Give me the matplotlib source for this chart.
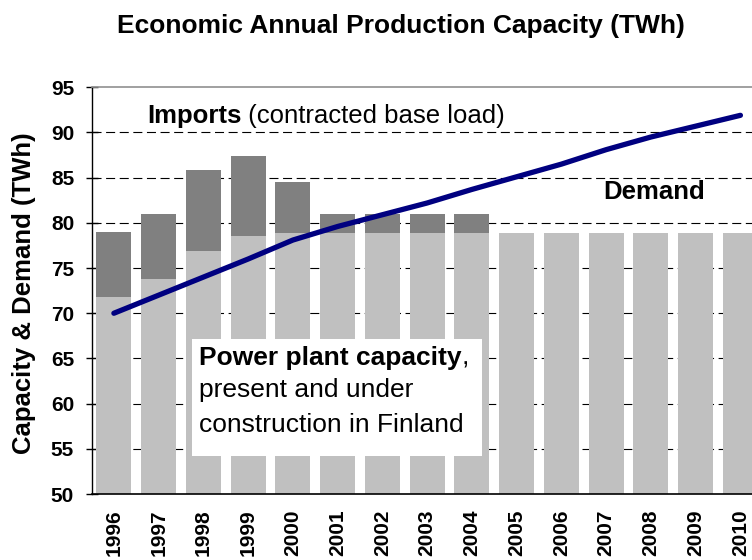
import matplotlib.pyplot as plt

plt.rcParams['font.family'] = ['Liberation Sans', 'DejaVu Sans']
plt.rcParams['lines.scale_dashes'] = False

years = ['1996', '1997', '1998', '1999', '2000', '2001', '2002', '2003',
         '2004', '2005', '2006', '2007', '2008', '2009', '2010']
domestic = [71.8, 73.8, 76.9, 78.5, 78.9, 78.9, 78.9, 78.9,
            78.9, 78.9, 78.9, 78.9, 78.9, 78.9, 78.9]
imports = [7.2, 7.2, 8.95, 8.9, 5.6, 2.1, 2.1, 2.1,
           2.1, 0, 0, 0, 0, 0, 0]
demand = [70.0, 72.0, 74.0, 76.0, 78.1, 79.6, 80.9, 82.2,
          83.7, 85.1, 86.5, 88.1, 89.5, 90.7, 91.9]
yticks = [50, 55, 60, 65, 70, 75, 80, 85, 90, 95]


def main():
	fig = plt.figure(figsize=(7.52, 5.6), dpi=100)
	# axes runs a little past the right edge, like the original
	ax = fig.add_axes([91.5 / 752, 1 - 494 / 560, 671.3 / 752, 406.7 / 560])

	x = list(range(len(years)))
	ax.bar(x, domestic, width=0.78, color='#c0c0c0', zorder=1)
	ax.bar(x, imports, width=0.78, bottom=domestic, color='#808080', zorder=1)
	ax.plot(x, demand, color='#000080', lw=3.8, solid_capstyle='round',
	        solid_joinstyle='round', zorder=3)

	ax.set_xlim(-0.5, len(years) - 0.5)
	ax.set_ylim(50, 95)
	ax.set_yticks(yticks)
	ax.set_xticks(x)
	ax.set_xticklabels(years, rotation=90, fontsize=15, fontweight='bold')
	ax.set_yticklabels([str(v) for v in yticks], fontsize=15, fontweight='bold')
	ax.tick_params(axis='x', length=0, pad=11)
	ax.tick_params(axis='y', direction='inout', length=9, width=1, pad=8)

	ax.set_axisbelow(True)
	ax.yaxis.grid(True, color='black', lw=0.8, linestyle=(0, (6.5, 3.3)))
	ax.get_ygridlines()[-1].set_visible(False)
	ax.get_ygridlines()[0].set_visible(False)

	ax.spines['right'].set_visible(False)
	ax.spines['top'].set_color('#909090')
	ax.spines['top'].set_linewidth(1.2)
	ax.spines['left'].set_linewidth(1)
	ax.spines['bottom'].set_linewidth(1.2)

	# imports label
	t = ax.text(0.74, 91.0, 'Imports', fontsize=18.5, fontweight='bold',
	            va='baseline', ha='left')
	ax.annotate(' (contracted base load)', xy=(1, 0), xycoords=t,
	            va='bottom', ha='left', fontsize=18.5)

	ax.text(10.94, 83.45, 'Demand', fontsize=18.5, fontweight='bold',
	        va='center', ha='left')

	# power plant box
	ax.add_patch(plt.Rectangle((1.746, 54.25), 6.48, 12.85, facecolor='white',
	                           edgecolor='none', zorder=4))
	t2 = ax.text(1.90, 64.28, 'Power plant capacity', fontsize=19,
	             fontweight='bold', va='baseline', ha='left', zorder=5)
	ax.annotate(',', xy=(1, 0), xycoords=t2, va='bottom', ha='left',
	            fontsize=19, zorder=5)
	ax.text(1.90, 60.78, 'present and under', fontsize=19, va='baseline',
	        ha='left', zorder=5)
	ax.text(1.90, 56.9, 'construction in Finland', fontsize=19,
	        va='baseline', ha='left', zorder=5)

	fig.text(0.533, 0.953, 'Economic Annual Production Capacity (TWh)',
	         fontsize=19, fontweight='bold', ha='center', va='center')
	fig.text(24 / 752, 1 - 293.4 / 560, 'Capacity & Demand (TWh)',
	         fontsize=18.5, fontweight='bold', rotation=90,
	         ha='center', va='center')

	fig.savefig('out.png', dpi=100)


if __name__ == '__main__':
	main()
